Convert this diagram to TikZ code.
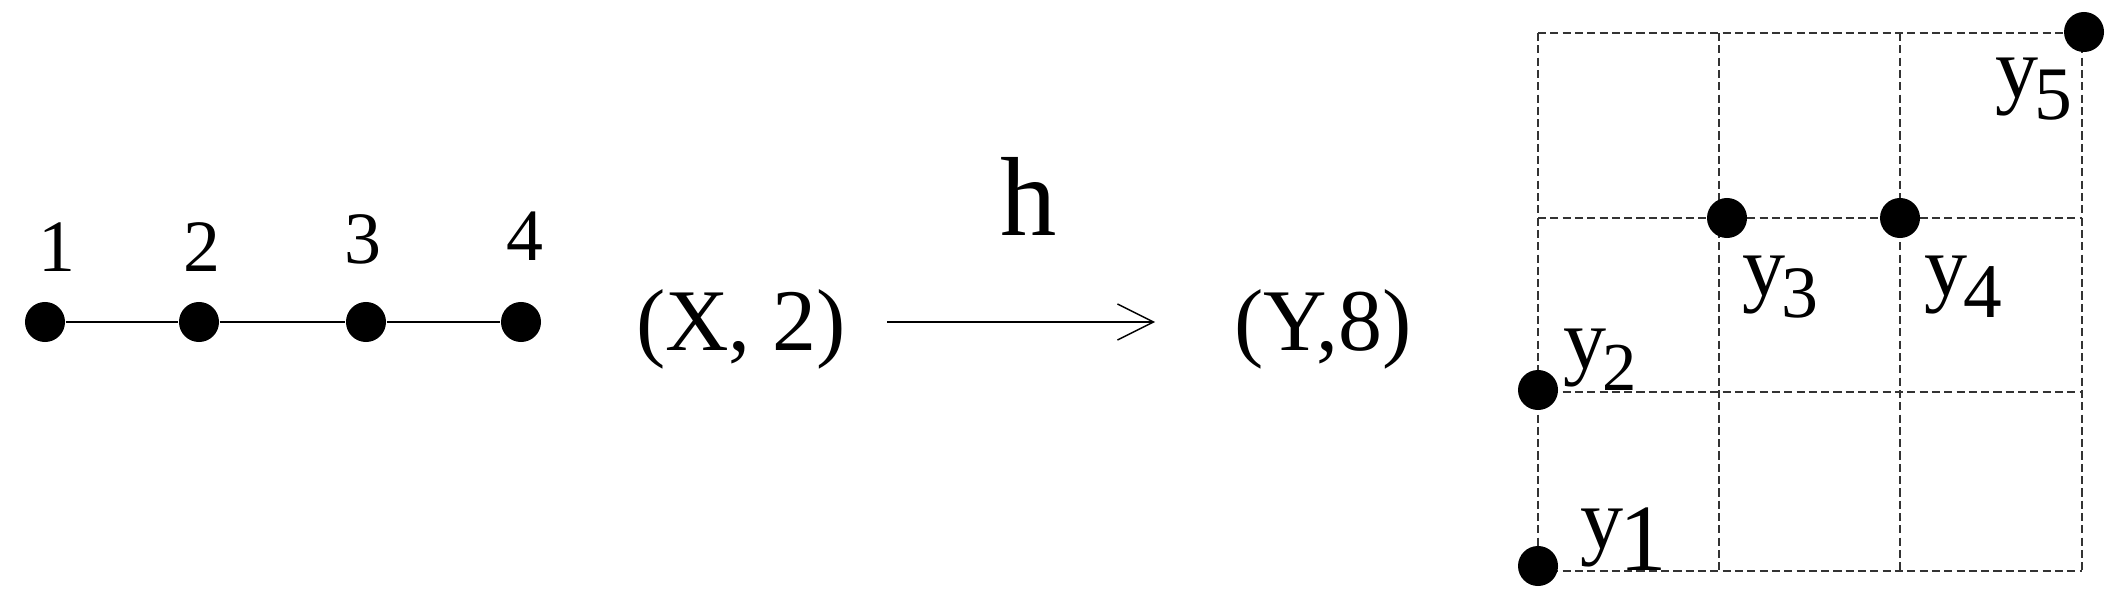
\documentclass[tikz,border=0pt]{standalone}
\usepackage{fontspec}
\setmainfont{Liberation Serif}
\usetikzlibrary{arrows.meta}
\begin{document}
\begin{tikzpicture}[x=0.01cm,y=-0.01cm,
  dot/.style={circle,fill=black,inner sep=0pt,minimum size=0.4cm},
  num/.style={font=\fontsize{21}{25}\selectfont,inner sep=0pt},
  pairlab/.style={font=\fontsize{25}{30}\selectfont,inner sep=0pt},
  hlab/.style={font=\fontsize{32}{38}\selectfont,inner sep=0pt},
  ylab/.style={font=\fontsize{24.5}{29}\selectfont,inner sep=0pt,anchor=base west},
  thinline/.style={line width=0.4pt},
  gridline/.style={line width=0.4pt,black!80,dash pattern=on 2.3pt off 1.2pt}]
\useasboundingbox (0,0) rectangle (2125,609);
\newcommand{\ysub}[2][21.5]{y\kern-0.04cm\raisebox{-0.22cm}{\fontsize{#1}{#1}\selectfont #2}}
% left chain
\node[dot] (n1) at (45,322) {};
\node[dot] (n2) at (199,322) {};
\node[dot] (n3) at (366,322) {};
\node[dot] (n4) at (521,322) {};
\draw[thinline] (n1) -- (n2) -- (n3) -- (n4);
\node[num] (l1) at (57,247) {1};
\node[num] (l2) at (202,247) {2};
\node[num] (l3) at (363,239) {3};
\node[num] (l4) at (525,236) {4};
% map
\node[pairlab] (x2) at (741,329) {(X, 2)};
\node[pairlab] (y8) at (1323,329) {(Y,8)};
\node[hlab] (h) at (1029,196) {h};
\coordinate (a1) at (887,322);
\coordinate (a2) at (1155,322);
\draw[thinline,-{Straight Barb[length=0.36cm,width=0.36cm,line width=0.4pt]}] (a1) -- (a2);
% grid
\foreach \gx in {1538,1719,1900,2082} \draw[gridline] (\gx,33) -- (\gx,571);
\foreach \gy in {33,218,392,571} \draw[gridline] (1538,\gy) -- (2082,\gy);
\node[dot] (p1) at (1538,566) {};
\node[dot] (p2) at (1538,390) {};
\node[dot] (p3) at (1727,218) {};
\node[dot] (p4) at (1900,218) {};
\node[dot] (p5) at (2084,32) {};
\node[ylab] (t1) at (1580,548) {\ysub[27]{1}};
\node[ylab] (t2) at (1563,368) {\ysub[19.5]{2}};
\node[ylab] (t3) at (1742,295) {\ysub[21]{3}};
\node[ylab] (t4) at (1924,295) {\ysub[22]{4}};
\node[ylab] (t5) at (1995,97) {\ysub[21.5]{5}};
\end{tikzpicture}
\end{document}
